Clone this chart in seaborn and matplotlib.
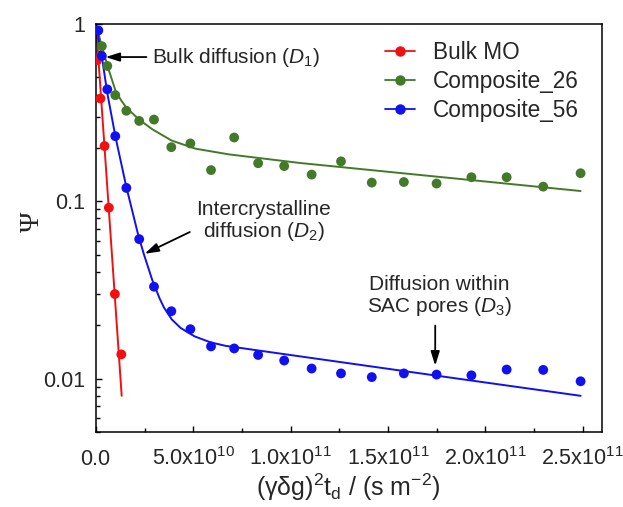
import matplotlib
matplotlib.use("Agg")
import matplotlib.pyplot as plt
import numpy as np
import pandas as pd
import seaborn as sns
from matplotlib.lines import Line2D
from matplotlib.ticker import FixedLocator, LogLocator, NullFormatter, FixedFormatter

# ---- measured signal attenuation ----
bulk_x = [0.5e9, 2.3e9, 4.4e9, 6.6e9, 9.7e9, 1.30e10]
bulk_y = [0.626, 0.38, 0.205, 0.092, 0.030, 0.0137]

grid_x = [3.0e9, 5.8e9, 9.9e9, 1.56e10, 2.22e10, 2.98e10, 3.87e10, 4.85e10,
          5.91e10, 7.10e10, 8.33e10, 9.67e10, 1.108e11, 1.259e11, 1.417e11,
          1.582e11, 1.750e11, 1.929e11, 2.110e11, 2.298e11, 2.490e11]
c26_y = [0.75, 0.58, 0.397, 0.324, 0.284, 0.289, 0.202, 0.212, 0.150, 0.229,
         0.164, 0.158, 0.1415, 0.168, 0.1275, 0.1285, 0.126, 0.1367, 0.1367,
         0.121, 0.144]

c56_x = [1.2e9] + grid_x
c56_y = [0.92, 0.66, 0.428, 0.233, 0.119, 0.0612, 0.033, 0.024, 0.019, 0.0152,
         0.0148, 0.0136, 0.01265, 0.0114, 0.0107, 0.0102, 0.0107, 0.01054,
         0.01044, 0.01125, 0.0112, 0.00966]

# ---- fitted diffusion curves ----
bulk_fit_x = [0.0, 1.32e10]
bulk_fit_y = [1.0, 0.0080]

c26_fit_x = [0.0, 2.68e9, 5.92e9, 1.004e10, 1.30e10, 1.555e10, 2.20e10, 2.89e10,
             3.89e10, 5.12e10, 6.82e10, 1.048e11, 2.49e11]
c26_fit_y = [1.0, 0.771, 0.579, 0.420, 0.370, 0.338, 0.290, 0.255, 0.220,
             0.198, 0.184, 0.1645, 0.1143]

c56_fit_x = [0.0, 3.0e9, 5.77e9, 1.00e10, 1.555e10, 2.17e10, 2.46e10, 2.89e10,
             3.27e10, 3.49e10, 3.89e10, 4.35e10, 5.07e10, 5.90e10, 6.67e10,
             1.748e11, 2.49e11]
c56_fit_y = [1.0, 0.655, 0.410, 0.231, 0.121, 0.0645, 0.0503, 0.0360, 0.0283,
             0.0252, 0.0216, 0.0193, 0.0173, 0.0160, 0.0153, 0.0104, 0.0080]

series_names = ["Bulk MO", "Composite_26", "Composite_56"]
colors = {"Bulk MO": "#f01010", "Composite_26": "#437a2a", "Composite_56": "#1010f0"}

x_ticks = [0.0, 5.0e10, 1.0e11, 1.5e11, 2.0e11, 2.5e11]
x_tick_labels = [r"$\mathregular{0.0}$", r"$\mathregular{5.0x10^{10}}$",
                 r"$\mathregular{1.0x10^{11}}$", r"$\mathregular{1.5x10^{11}}$",
                 r"$\mathregular{2.0x10^{11}}$", r"$\mathregular{2.5x10^{11}}$"]
y_ticks = [0.01, 0.1, 1.0]
y_tick_labels = ["0.01", "0.1", "1"]

sns.set_theme(style="ticks")
plt.rcParams["font.family"] = ["Liberation Sans", "DejaVu Sans"]
plt.rcParams["mathtext.fontset"] = "custom"
plt.rcParams["mathtext.rm"] = "Liberation Sans"
plt.rcParams["mathtext.it"] = "Liberation Sans:italic"
plt.rcParams["mathtext.bf"] = "Liberation Sans:bold"

points = pd.concat([
    pd.DataFrame({"x": bulk_x, "y": bulk_y, "sample": "Bulk MO"}),
    pd.DataFrame({"x": grid_x, "y": c26_y, "sample": "Composite_26"}),
    pd.DataFrame({"x": c56_x, "y": c56_y, "sample": "Composite_56"}),
], ignore_index=True)
fits = pd.concat([
    pd.DataFrame({"x": bulk_fit_x, "y": bulk_fit_y, "sample": "Bulk MO"}),
    pd.DataFrame({"x": c26_fit_x, "y": c26_fit_y, "sample": "Composite_26"}),
    pd.DataFrame({"x": c56_fit_x, "y": c56_fit_y, "sample": "Composite_56"}),
], ignore_index=True)

fig = plt.figure(figsize=(6.23, 5.07), dpi=100)
ax = fig.add_axes([96 / 623, 1 - 432 / 507, 506 / 623, 408 / 507])

sns.lineplot(data=fits, x="x", y="y", hue="sample", palette=colors,
             hue_order=series_names, estimator=None, sort=False, lw=1.4,
             legend=False, ax=ax)
sns.scatterplot(data=points, x="x", y="y", hue="sample", palette=colors,
                hue_order=series_names, s=50, linewidth=0, legend=False,
                zorder=3, ax=ax)

ax.set_yscale("log")
ax.set_xlim(0, 2.6e11)
ax.set_ylim(0.005, 1.0)

ax.xaxis.set_major_locator(FixedLocator(x_ticks))
ax.xaxis.set_major_formatter(FixedFormatter(x_tick_labels))
ax.xaxis.set_minor_locator(FixedLocator([2.5e10 + 5e10 * i for i in range(5)]))
ax.yaxis.set_major_locator(FixedLocator(y_ticks))
ax.yaxis.set_major_formatter(FixedFormatter(y_tick_labels))
ax.yaxis.set_minor_locator(LogLocator(base=10, subs=np.arange(2, 10)))
ax.yaxis.set_minor_formatter(NullFormatter())

ax.tick_params(which="both", direction="in", color="black", width=1.0,
               top=False, right=False)
ax.tick_params(which="major", length=4.5)
ax.tick_params(which="minor", length=2.8)
ax.tick_params(axis="y", which="major", labelsize=15.5, pad=8)
ax.tick_params(axis="x", which="major", labelsize=15.5, pad=23.5)
for lbl in ax.get_xticklabels():
    lbl.set_verticalalignment("baseline")

for sp in ax.spines.values():
    sp.set_color("black")
    sp.set_linewidth(1.1)

xlab = ax.set_xlabel(r"(γδg)$\mathregular{^2}$t$\mathregular{_d}$ / (s m$\mathregular{^{-2}}$)",
                     fontsize=18)
xlab.set_verticalalignment("center")
ax.xaxis.set_label_coords(0.498, -0.135)
ylab = ax.set_ylabel("Ψ", fontsize=20, family=["Liberation Serif", "DejaVu Serif"])
ylab.set_verticalalignment("center")
ax.yaxis.set_label_coords(-0.126, 0.515)

# legend with line + marker handles
handles = [Line2D([], [], color=colors[n], marker="o", markersize=6.5, lw=1.3)
           for n in series_names]
ax.legend(handles, series_names, loc="upper left", bbox_to_anchor=(0.572, 0.958),
          frameon=False, fontsize=16.3, handlelength=1.3, handletextpad=0.8,
          labelspacing=0.26, borderaxespad=0, borderpad=0)

# annotations of the diffusion regimes
arrow = dict(arrowstyle="-|>,head_length=0.7,head_width=0.22", color="black",
             lw=1.3, shrinkA=0, shrinkB=0)
ax.annotate("", xy=(4.9e9, 0.651), xytext=(2.59e10, 0.651), arrowprops=arrow)
ax.text(2.89e10, 0.651, r"Bulk diffusion ($\mathit{D_1}$)", fontsize=15,
        ha="left", va="center")

ax.text(8.63e10, 0.0771, "Intercrystalline\n" + r"diffusion ($\mathit{D_2}$)",
        fontsize=15, ha="center", va="center", linespacing=1.05)
ax.annotate("", xy=(2.50e10, 0.0506), xytext=(4.82e10, 0.0671), arrowprops=arrow)

ax.text(1.764e11, 0.0290, "Diffusion within\n" + r"SAC pores ($\mathit{D_3}$)",
        fontsize=15, ha="center", va="center", linespacing=1.05)
ax.annotate("", xy=(1.743e11, 0.01184), xytext=(1.743e11, 0.01993), arrowprops=arrow)

fig.savefig("out.png", dpi=100)
